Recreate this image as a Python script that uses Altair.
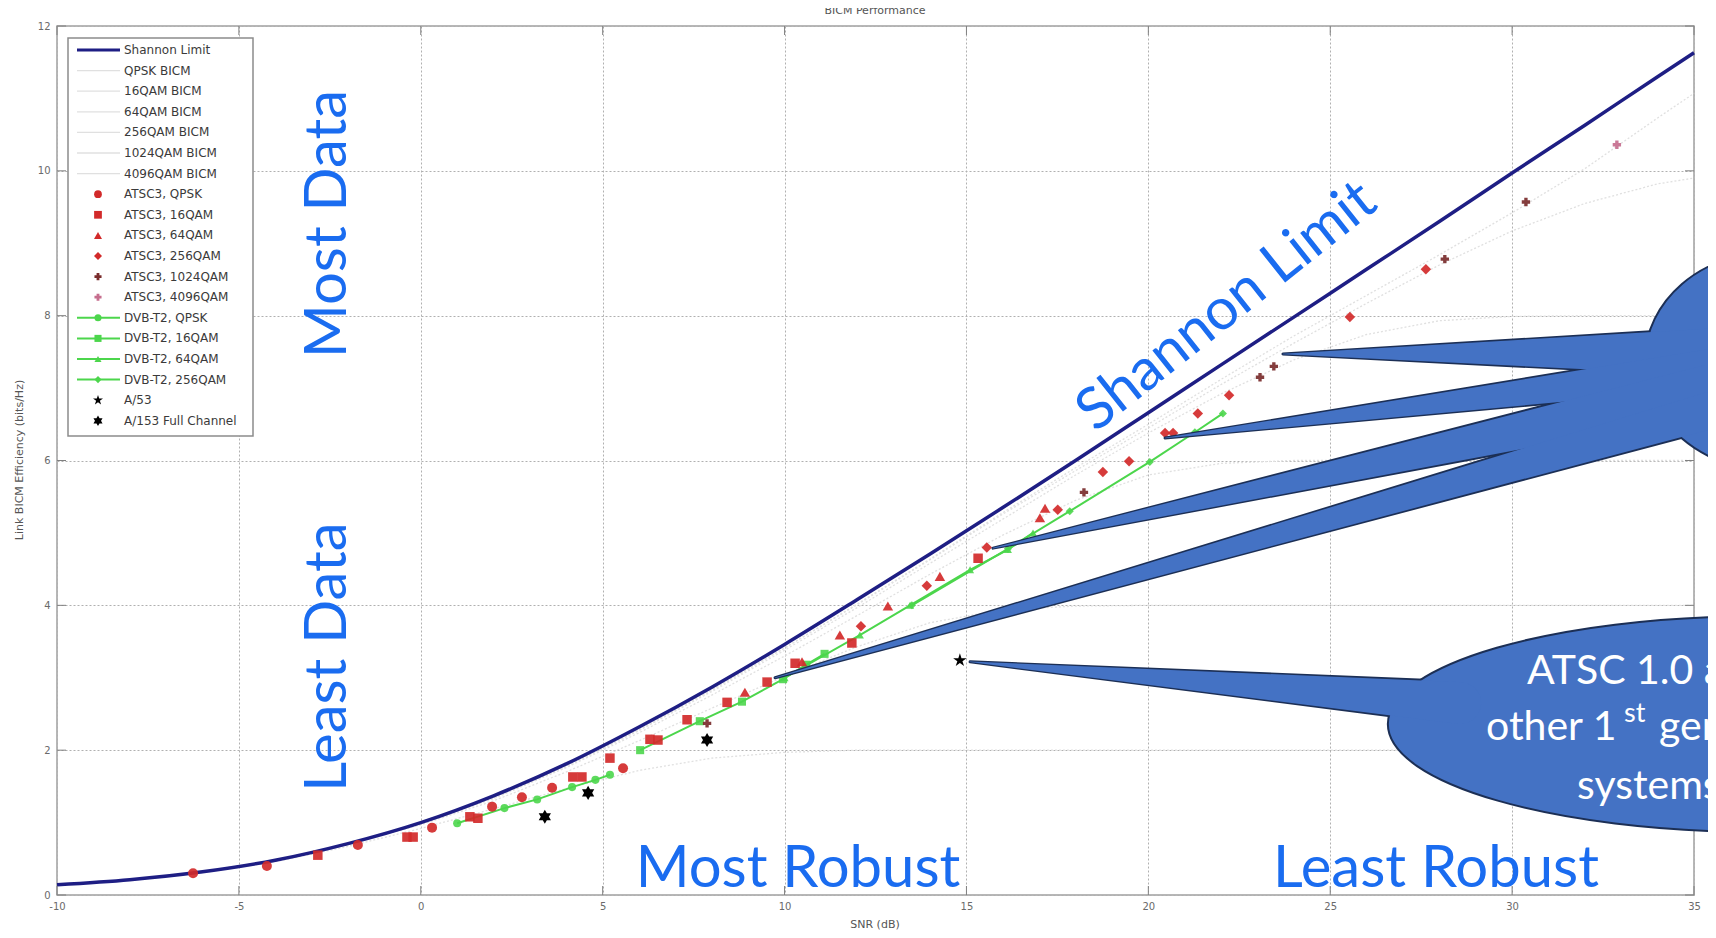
import altair as alt
import pandas as pd

# ---------------- values ----------------
x_ticks = [-10, -5, 0, 5, 10, 15, 20, 25, 30, 35]
y_ticks = [0, 2, 4, 6, 8, 10, 12]

snr_grid = [-10, -8, -6, -4, -2, 0, 2, 4, 6, 8, 10, 12, 14, 16, 18, 20, 22, 24, 26, 28, 30, 32, 34, 35]
shannon = [0.14, 0.21, 0.32, 0.48, 0.71, 1.00, 1.37, 1.81, 2.32, 2.87, 3.46, 4.08, 4.71, 5.35, 6.00, 6.66, 7.32, 7.98, 8.64, 9.30, 9.97, 10.63, 11.30, 11.63]
bicm_qpsk = [0.14, 0.21, 0.31, 0.46, 0.67, 0.92, 1.19, 1.47, 1.72, 1.89, 1.97, 2.0, 2.0, 2.0, 2.0, 2.0, 2.0, 2.0, 2.0, 2.0, 2.0, 2.0, 2.0, 2.0]
bicm_16qam = [0.14, 0.21, 0.32, 0.48, 0.70, 0.97, 1.30, 1.70, 2.13, 2.58, 3.02, 3.43, 3.76, 3.94, 3.99, 4.0, 4.0, 4.0, 4.0, 4.0, 4.0, 4.0, 4.0, 4.0]
bicm_64qam = [0.14, 0.21, 0.32, 0.48, 0.70, 0.98, 1.33, 1.76, 2.24, 2.76, 3.30, 3.86, 4.43, 4.97, 5.45, 5.80, 5.96, 6.0, 6.0, 6.0, 6.0, 6.0, 6.0, 6.0]
bicm_256qam = [0.14, 0.21, 0.32, 0.48, 0.70, 0.98, 1.34, 1.77, 2.27, 2.81, 3.38, 3.97, 4.58, 5.19, 5.80, 6.38, 6.92, 7.39, 7.74, 7.93, 7.99, 8.0, 8.0, 8.0]
bicm_1024qam = [0.14, 0.21, 0.32, 0.48, 0.70, 0.98, 1.34, 1.78, 2.28, 2.83, 3.41, 4.01, 4.63, 5.26, 5.86, 6.45, 7.05, 7.62, 8.17, 8.70, 9.17, 9.55, 9.82, 9.90]
bicm_4096qam = [0.14, 0.21, 0.32, 0.48, 0.70, 0.98, 1.34, 1.78, 2.28, 2.83, 3.41, 4.02, 4.64, 5.28, 5.90, 6.50, 7.12, 7.72, 8.28, 8.84, 9.42, 10.03, 10.73, 11.07]

atsc_qpsk_snr = [-6.26, -4.23, -1.73, 0.31, 1.96, 2.78, 3.61, 5.56]
atsc_qpsk_eff = [0.30, 0.40, 0.69, 0.93, 1.22, 1.35, 1.48, 1.75]
atsc_16qam_snr = [-2.83, -0.38, -0.21, 1.35, 1.57, 4.18, 4.43, 5.20, 6.30, 6.52, 7.32, 8.42, 9.52, 10.29, 11.85, 15.32]
atsc_16qam_eff = [0.55, 0.80, 0.80, 1.08, 1.06, 1.63, 1.63, 1.89, 2.15, 2.14, 2.42, 2.66, 2.94, 3.20, 3.48, 4.65]
atsc_64qam_snr = [8.91, 10.48, 11.52, 12.84, 14.27, 17.02, 17.16]
atsc_64qam_eff = [2.80, 3.22, 3.59, 3.99, 4.40, 5.21, 5.34]
atsc_256qam_snr = [12.10, 13.91, 15.56, 17.51, 18.75, 19.47, 20.46, 20.68, 21.36, 22.22, 25.54, 27.63]
atsc_256qam_eff = [3.71, 4.27, 4.80, 5.32, 5.84, 5.99, 6.38, 6.38, 6.65, 6.90, 7.98, 8.64]
atsc_1024qam_snr = [7.87, 18.23, 23.07, 23.45, 28.15, 30.38]
atsc_1024qam_eff = [2.37, 5.56, 7.15, 7.30, 8.78, 9.57]
atsc_4096qam_snr = [32.88]
atsc_4096qam_eff = [10.36]

dvb_qpsk_snr = [1.00, 2.30, 3.20, 4.16, 4.80, 5.20]
dvb_qpsk_eff = [0.99, 1.20, 1.32, 1.49, 1.59, 1.66]
dvb_16qam_snr = [6.03, 7.67, 8.83, 9.96, 10.60, 11.10]
dvb_16qam_eff = [2.00, 2.40, 2.67, 2.98, 3.18, 3.33]
dvb_64qam_snr = [10.00, 12.07, 13.45, 15.10, 16.14, 16.83]
dvb_64qam_eff = [3.00, 3.59, 4.00, 4.49, 4.77, 5.00]
dvb_256qam_snr = [13.50, 16.14, 17.84, 20.04, 21.28, 22.05]
dvb_256qam_eff = [4.00, 4.78, 5.30, 5.98, 6.39, 6.65]

a53_snr = [14.82]
a53_eff = [3.24]
a153_snr = [3.41, 4.60, 7.87]
a153_eff = [1.08, 1.41, 2.14]

legend_labels = ["Shannon Limit", "QPSK BICM", "16QAM BICM", "64QAM BICM", "256QAM BICM",
                 "1024QAM BICM", "4096QAM BICM", "ATSC3, QPSK", "ATSC3, 16QAM", "ATSC3, 64QAM",
                 "ATSC3, 256QAM", "ATSC3, 1024QAM", "ATSC3, 4096QAM", "DVB-T2, QPSK",
                 "DVB-T2, 16QAM", "DVB-T2, 64QAM", "DVB-T2, 256QAM", "A/53", "A/153 Full Channel"]

# callout wedges: tip (snr, eff) -> base hidden inside the balloon
wedge_tip_snr = [23.70, 20.46, 15.73, 9.74, 15.10]
wedge_tip_eff = [7.47, 6.31, 4.79, 3.00, 3.22]
wedge_base_snr = [36.26, 36.26, 36.26, 36.26, 28.57]
wedge_base_eff = [7.50, 7.32, 7.08, 6.81, 2.65]
wedge_width = [50, 41, 51, 38, 42]

# ---------------- styling ----------------
HEX = "M0,-1L0.866,0.5L-0.866,0.5Z M0,1L-0.866,-0.5L0.866,-0.5Z"
STAR = ("M0,-1L0.2245,-0.309L0.951,-0.309L0.363,0.118L0.588,0.809L0,0.382"
        "L-0.588,0.809L-0.363,0.118L-0.951,-0.309L-0.2245,-0.309Z")
RED = "#d22a2a"
GREEN = "#4cd64c"
NAVY = "#1e1e84"
BICM_C = "#e0e0e0"
BLUE_TXT = "#1a6cf0"
CALLOUT = "#4472c4"
CALLOUT_EDGE = "#1c2f55"

xs = alt.Scale(domain=[-10, 35], nice=False, zero=False)
ys = alt.Scale(domain=[0, 12], nice=False, zero=False)
xaxis = alt.Axis(values=x_ticks, grid=True, gridColor="#b0b0b0", gridDash=[2, 2], gridWidth=1,
                 ticks=False, domain=False, labelFont="DejaVu Sans", labelFontSize=10,
                 labelColor="#6a6a6a", labelPadding=6, labelFlush=False, orient="bottom",
                 labelExpr="'' + datum.value")
yaxis = alt.Axis(values=y_ticks, grid=True, gridColor="#b0b0b0", gridDash=[2, 2], gridWidth=1,
                 ticks=False, domain=False, labelFont="DejaVu Sans", labelFontSize=10,
                 labelColor="#6a6a6a", labelPadding=7, labelFlush=False, orient="left",
                 labelExpr="'' + datum.value")


def X(f="snr"):
    return alt.X(f + ":Q", scale=xs, axis=xaxis, title=None)


def Y(f="eff"):
    return alt.Y(f + ":Q", scale=ys, axis=yaxis, title=None)


def frame(snr, eff, **kw):
    d = pd.DataFrame({"snr": snr, "eff": eff})
    for k, v in kw.items():
        d[k] = v
    return d


layers = []

# BICM curves (one layer each)
for vals in [bicm_qpsk, bicm_16qam, bicm_64qam, bicm_256qam, bicm_1024qam, bicm_4096qam]:
    layers.append(alt.Chart(frame(snr_grid, vals)).mark_line(
        color=BICM_C, strokeWidth=1.3, strokeDash=[2, 2]).encode(x=X(), y=Y()))

layers.append(alt.Chart(frame(snr_grid, shannon)).mark_line(
    color=NAVY, strokeWidth=3.5, interpolate="monotone").encode(x=X(), y=Y()))

# DVB-T2
for sx, sy, sh in [(dvb_qpsk_snr, dvb_qpsk_eff, "circle"), (dvb_16qam_snr, dvb_16qam_eff, "square"),
                   (dvb_64qam_snr, dvb_64qam_eff, "triangle-up"),
                   (dvb_256qam_snr, dvb_256qam_eff, "diamond")]:
    d = frame(sx, sy)
    layers.append(alt.Chart(d).mark_line(color=GREEN, strokeWidth=2).encode(x=X(), y=Y()))
    layers.append(alt.Chart(d).mark_point(shape=sh, filled=True, color=GREEN, size=65,
                                          opacity=0.9).encode(x=X(), y=Y()))

# ATSC3
for sx, sy, sh, c, z in [(atsc_qpsk_snr, atsc_qpsk_eff, "circle", RED, 100),
                         (atsc_16qam_snr, atsc_16qam_eff, "square", RED, 90),
                         (atsc_64qam_snr, atsc_64qam_eff, "triangle-up", RED, 110),
                         (atsc_256qam_snr, atsc_256qam_eff, "diamond", RED, 110),
                         (atsc_1024qam_snr, atsc_1024qam_eff, "cross", "#7a2c2c", 70),
                         (atsc_4096qam_snr, atsc_4096qam_eff, "cross", "#c66e8e", 70)]:
    layers.append(alt.Chart(frame(sx, sy)).mark_point(
        shape=sh, filled=True, color=c, size=z, opacity=0.92).encode(x=X(), y=Y()))

layers.append(alt.Chart(frame(a53_snr, a53_eff)).mark_point(
    shape=STAR, filled=True, color="black", size=200, opacity=1).encode(x=X(), y=Y()))
layers.append(alt.Chart(frame(a153_snr, a153_eff)).mark_point(
    shape=HEX, filled=True, color="black", size=200, opacity=1).encode(x=X(), y=Y()))

# inward ticks (MATLAB style)
tick_c = "#808080"
xt = pd.DataFrame({"snr": x_ticks})
yt = pd.DataFrame({"eff": y_ticks})
layers += [
    alt.Chart(xt).mark_rule(color=tick_c).encode(x=X(), y=alt.value(869), y2=alt.value(860)),
    alt.Chart(xt).mark_rule(color=tick_c).encode(x=X(), y=alt.value(0), y2=alt.value(9)),
    alt.Chart(yt).mark_rule(color=tick_c).encode(y=Y(), x=alt.value(0), x2=alt.value(9)),
    alt.Chart(yt).mark_rule(color=tick_c).encode(y=Y(), x=alt.value(1637), x2=alt.value(1628)),
]

# callouts: wedges as tapered trails, balloons as elliptic symbols
w_rows = []
for i in range(len(wedge_width)):
    w_rows.append({"id": i, "k": 0, "snr": wedge_tip_snr[i], "eff": wedge_tip_eff[i],
                   "w": 0.6, "wo": 3.0})
    w_rows.append({"id": i, "k": 1, "snr": wedge_base_snr[i], "eff": wedge_base_eff[i],
                   "w": wedge_width[i], "wo": wedge_width[i] + 4})
wdf = pd.DataFrame(w_rows)
layers.append(alt.Chart(wdf).mark_trail(color=CALLOUT_EDGE).encode(
    x=X(), y=Y(), size=alt.Size("wo:Q", scale=None), detail="id:N", order="k:Q"))

ELL1 = "M-1,0 A1,0.865 0 1,0 1,0 A1,0.865 0 1,0 -1,0 Z"
ELL2 = "M-1,0 A1,0.29 0 1,0 1,0 A1,0.29 0 1,0 -1,0 Z"
layers.append(alt.Chart(frame([37.11], [7.37])).mark_point(
    shape=ELL1, size=63504, filled=True, fill=CALLOUT, stroke=CALLOUT_EDGE, strokeWidth=2,
    opacity=1).encode(x=X(), y=Y()))
layers.append(alt.Chart(frame([36.81], [2.36])).mark_point(
    shape=ELL2, size=553536, filled=True, fill=CALLOUT, stroke=CALLOUT_EDGE, strokeWidth=2,
    opacity=1).encode(x=X(), y=Y()))
layers.append(alt.Chart(wdf).mark_trail(color=CALLOUT).encode(
    x=X(), y=Y(), size=alt.Size("w:Q", scale=None), detail="id:N", order="k:Q"))


def txt(s, px, py, **kw):
    return alt.Chart(pd.DataFrame({"t": [s]})).mark_text(**kw).encode(
        x=alt.value(px), y=alt.value(py), text="t:N")


blue = dict(font="Lato", fontSize=58, color=BLUE_TXT, align="center", baseline="middle")
layers += [
    txt("Most Data", 272, 198, angle=270, **blue),
    txt("Least Data", 272, 631, angle=270, **blue),
    txt("Most Robust", 741, 844, **blue),
    txt("Least Robust", 1379, 844, **blue),
    txt("Shannon Limit", 1170, 281, angle=321.5, **blue),
]
white = dict(font="Lato", fontSize=41, color="white", align="left", baseline="alphabetic")
layers += [
    txt("ATSC 1.0 and", 1470, 658, **white),
    txt("other 1", 1429, 714, **white),
    txt("st", 1567, 696, font="Lato", fontSize=27, color="white", align="left", baseline="alphabetic"),
    txt("gen", 1602, 714, **white),
    txt("systems", 1520, 773, **white),
]
grey = dict(font="DejaVu Sans", fontSize=11, color="#555555", align="center", baseline="middle")
layers += [
    txt("BICM Performance", 818, -15, **grey),
    txt("SNR (dB)", 818, 899, **grey),
    txt("Link BICM Efficiency (bits/Hz)", -37, 434, angle=270, **grey),
]

# ---------------- legend (pixel placed rows) ----------------
row_y0, row_dy = 24, 20.6
layers.append(alt.Chart(pd.DataFrame({"a": [0]})).mark_rect(
    fill="white", stroke="#8c8c8c", strokeWidth=1.5).encode(
    x=alt.value(11), x2=alt.value(196), y=alt.value(12), y2=alt.value(410)))

line_rows = [0, 1, 2, 3, 4, 5, 6, 13, 14, 15, 16]
line_cols = [NAVY] + [BICM_C] * 6 + [GREEN] * 4
line_w = [3] + [1.3] * 6 + [2] * 4
for r, c, w in zip(line_rows, line_cols, line_w):
    yy = row_y0 + r * row_dy
    layers.append(alt.Chart(pd.DataFrame({"a": [0]})).mark_rule(color=c, strokeWidth=w).encode(
        x=alt.value(20), x2=alt.value(63), y=alt.value(yy)))

mk_rows = [7, 8, 9, 10, 11, 12, 13, 14, 15, 16, 17, 18]
mk_shape = ["circle", "square", "triangle-up", "diamond", "cross", "cross",
            "circle", "square", "triangle-up", "diamond", STAR, HEX]
mk_col = [RED, RED, RED, RED, "#7a2c2c", "#c66e8e", GREEN, GREEN, GREEN, GREEN, "black", "black"]
mk_size = [60, 60, 65, 65, 50, 50, 50, 50, 50, 50, 110, 110]
for r, s, c, z in zip(mk_rows, mk_shape, mk_col, mk_size):
    yy = row_y0 + r * row_dy
    layers.append(alt.Chart(pd.DataFrame({"a": [0]})).mark_point(
        shape=s, filled=True, color=c, size=z, opacity=1).encode(
        x=alt.value(41), y=alt.value(yy)))

for r, lab in enumerate(legend_labels):
    yy = row_y0 + r * row_dy
    layers.append(txt(lab, 67, yy, font="DejaVu Sans", fontSize=12, color="#3a3a3a",
                      align="left", baseline="middle"))

chart = alt.layer(*layers).properties(
    width=1637, height=869,
    autosize=alt.AutoSizeParams(type="none"),
    padding={"left": 49, "top": 18, "right": 14, "bottom": 35},
    background="white",
).configure_view(stroke="#a0a0a0", strokeWidth=1.5)

chart.save("out.html", embed_options={"renderer": "svg", "actions": False})
